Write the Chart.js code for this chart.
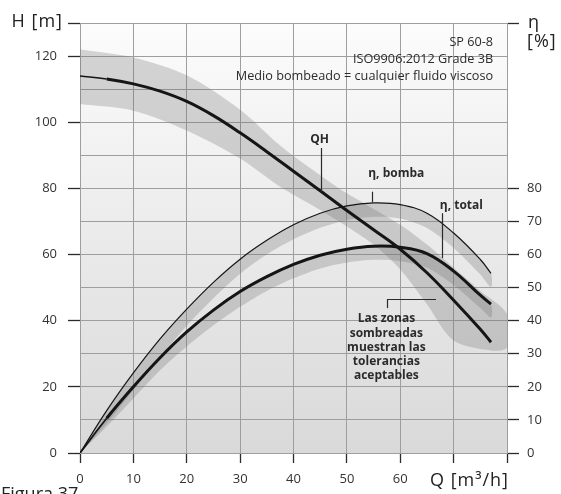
<!DOCTYPE html>
<html>
<head>
<meta charset="utf-8">
<script src="https://cdn.jsdelivr.net/npm/chart.js@4.4.1/dist/chart.umd.min.js"></script>
<style>
  html, body { margin: 0; padding: 0; background: #fff; }
  #wrap { width: 561px; height: 494px; }
</style>
</head>
<body>
<div id="wrap"><canvas id="pumpChart" width="561" height="494"></canvas></div>
<script>
const flow = [0, 5, 10, 15, 20, 25, 30, 35, 40, 45, 50, 55, 60, 65, 70, 75, 77];
const headQH = [114, 113.1, 111.6, 109.4, 106.3, 102, 96.8, 91.1, 85.2, 79.3, 73.3, 67.5, 61.6, 54.5, 46.2, 37.4, 33.5];
const etaPump = [0, 12.8, 24.2, 34.5, 43.5, 51.6, 58.6, 64.3, 69, 72.5, 74.7, 75.6, 75.1, 72.5, 66.5, 58.5, 54.3];
const etaTotal = [0, 10.5, 20, 28.8, 36.6, 43.2, 48.8, 53.3, 57, 59.8, 61.6, 62.5, 62.2, 60.3, 55, 47.7, 45];

// lower edges of the efficiency tolerance zones (same flow points)
const etaPumpLow = [0, 9, 19, 29, 38.5, 46.8, 54.2, 60, 64.6, 68.1, 70.4, 71.4, 70.9, 68, 62, 54, 50.2];
const etaTotalLow = [0, 8, 16.5, 25, 32.2, 38.6, 44.2, 49, 52.8, 55.8, 57.6, 58.4, 58, 56, 50.8, 43.8, 41];

// QH tolerance zone edges
const qhUpperQ = [0, 10, 20, 30, 37.5, 45, 50, 55, 60, 65, 70, 75, 80];
const qhUpperH = [122, 119.6, 114.2, 103.8, 93, 84, 78.5, 73.8, 69, 63, 56, 49, 42];
const qhLowerQ = [0, 10, 20, 30, 37.5, 45, 50, 55, 60, 65, 70, 77, 80];
const qhLowerH = [105.5, 103.5, 97.5, 89, 80.5, 73.5, 68.5, 63, 55.5, 45, 34, 31, 32];

// axes
const qTicks = [0, 10, 20, 30, 40, 50, 60, 70, 80];
const qTickLabels = [0, 10, 20, 30, 40, 50, 60];
const hGrid = [0, 10, 20, 30, 40, 50, 60, 70, 80, 90, 100, 110, 120, 130];
const hTickLabels = [0, 20, 40, 60, 80, 100, 120];
const etaTickLabels = [0, 10, 20, 30, 40, 50, 60, 70, 80];

const toPoints = (xs, ys) => xs.map((x, i) => ({ x: x, y: ys[i] }));
// closed outline: upper edge left->right, then lower edge right->left
const outline = (xu, yu, xl, yl) => toPoints(xu, yu).concat(toPoints(xl, yl).reverse());

const FONT = "'Open Sans', 'DejaVu Sans', sans-serif";
const GRID = '#9e9e9e';
const INK = '#2b2b2b';
const BAND = 'rgba(110,110,110,0.28)';

// plot background fades from white to grey
const plotBackground = {
    id: 'plotBackground',
    beforeDraw(chart) {
        const { ctx, chartArea: a } = chart;
        const g = ctx.createLinearGradient(0, a.top, 0, a.bottom);
        g.addColorStop(0, '#fcfcfc');
        g.addColorStop(1, '#d9d9d9');
        ctx.save();
        ctx.fillStyle = g;
        ctx.fillRect(a.left, a.top, a.right - a.left, a.bottom - a.top);
        ctx.restore();
    }
};

// curve names, notes and axis titles
const labels = {
    id: 'labels',
    afterDatasetsDraw(chart) {
        const { ctx, chartArea: a, scales: { x, y } } = chart;
        const px = v => x.getPixelForValue(v);
        const py = v => y.getPixelForValue(v);
        const vline = (q, h1, h2) => {
            ctx.beginPath();
            ctx.moveTo(Math.round(px(q)) + 0.5, py(h1));
            ctx.lineTo(Math.round(px(q)) + 0.5, py(h2));
            ctx.stroke();
        };
        ctx.save();
        ctx.fillStyle = INK;
        ctx.strokeStyle = INK;
        ctx.lineWidth = 1.2;

        // pump info, top right
        ctx.font = '12.7px ' + FONT;
        ctx.textAlign = 'right';
        ctx.textBaseline = 'middle';
        ctx.fillText('SP 60-8', px(77.4), py(124.2));
        ctx.fillText('ISO9906:2012 Grade 3B', px(77.4), py(119));
        ctx.fillText('Medio bombeado = cualquier fluido viscoso', px(77.4), py(113.9));

        ctx.font = 'bold 12px ' + FONT;
        ctx.textAlign = 'center';
        ctx.fillText('QH', px(44.9), py(94.8));
        vline(45.1, 92.2, 78.9);

        ctx.textAlign = 'left';
        ctx.fillText('η, bomba', px(54), py(84.6));
        vline(54.7, 79, 75.8);
        ctx.fillText('η, total', px(67.4), py(74.7));
        vline(67.8, 72.5, 58.9);

        ctx.textAlign = 'center';
        const note = ['Las zonas', 'sombreadas', 'muestran las', 'tolerancias', 'aceptables'];
        note.forEach((t, i) => ctx.fillText(t, px(57.4), py(40.5) + i * 14.2));
        vline(57.6, 43.8, 46.5);
        ctx.beginPath();
        ctx.moveTo(Math.round(px(57.6)), Math.round(py(46.5)) + 0.5);
        ctx.lineTo(px(66.7), Math.round(py(46.5)) + 0.5);
        ctx.stroke();

        // axis titles
        ctx.fillStyle = '#222';
        ctx.font = '18px ' + FONT;
        ctx.letterSpacing = '1px';
        ctx.textBaseline = 'alphabetic';
        ctx.textAlign = 'right';
        ctx.fillText('H [m]', a.left - 17, a.top + 4);
        ctx.fillText('Q [m³/h]', a.right + 2, a.bottom + 33);
        ctx.textAlign = 'left';
        ctx.fillText('η', a.right + 21, a.top + 5);
        ctx.fillText('[%]', a.right + 20, a.top + 24);

        ctx.letterSpacing = '0px';
        ctx.fillText('Figura 37', 1, a.bottom + 47);
        ctx.restore();
    }
};

const curve = (label, xs, ys, axis, width, startWidth) => ({
    label: label,
    data: toPoints(xs, ys),
    yAxisID: axis,
    borderColor: '#151515',
    borderWidth: width,
    segment: { borderWidth: c => c.p0DataIndex === 0 ? startWidth : width },
    tension: 0.4,
    pointRadius: 0,
    fill: false,
    order: 0
});

const band = (label, points, axis) => ({
    label: label,
    data: points,
    yAxisID: axis,
    borderWidth: 0,
    backgroundColor: BAND,
    tension: 0.3,
    pointRadius: 0,
    fill: 'shape',
    order: 1
});

const ctx = document.getElementById('pumpChart').getContext('2d');
new Chart(ctx, {
    type: 'line',
    data: {
        datasets: [
            curve('QH', flow, headQH, 'y', 3, 1.5),
            curve('η, bomba', flow, etaPump, 'y1', 1.2, 1.2),
            curve('η, total', flow, etaTotal, 'y1', 3, 1.8),
            band('QH tolerancia', outline(qhUpperQ, qhUpperH, qhLowerQ, qhLowerH), 'y'),
            band('η, bomba tolerancia', outline(flow, etaPump, flow, etaPumpLow), 'y1'),
            band('η, total tolerancia', outline(flow, etaTotal, flow, etaTotalLow), 'y1')
        ]
    },
    options: {
        responsive: false,
        devicePixelRatio: 1,
        animation: false,
        layout: { padding: { top: 23, left: 0, right: 0, bottom: 0 } },
        plugins: {
            legend: { display: false },
            tooltip: { enabled: false }
        },
        scales: {
            x: {
                type: 'linear',
                min: 0,
                max: 80,
                afterBuildTicks: s => { s.ticks = qTicks.map(v => ({ value: v })); },
                afterFit: s => { s.height = 41; },
                grid: { color: GRID, lineWidth: 1, tickColor: INK, tickLength: 10, tickWidth: 1.3 },
                border: { color: GRID, width: 1 },
                ticks: {
                    autoSkip: false,
                    maxRotation: 0,
                    padding: 8,
                    color: '#333',
                    font: { family: FONT, size: 13 },
                    callback: v => qTickLabels.includes(v) ? v : ''
                }
            },
            y: {
                position: 'left',
                min: 0,
                max: 130,
                afterBuildTicks: s => { s.ticks = hGrid.map(v => ({ value: v })); },
                afterFit: s => { s.width = 80; },
                grid: {
                    color: GRID,
                    lineWidth: 1,
                    tickLength: 12,
                    tickWidth: 1.3,
                    tickColor: c => (hTickLabels.includes(c.tick.value) || c.tick.value === 130) ? INK : 'rgba(0,0,0,0)'
                },
                border: { color: GRID, width: 1 },
                ticks: {
                    autoSkip: false,
                    padding: 11,
                    color: '#333',
                    font: { family: FONT, size: 13 },
                    callback: v => hTickLabels.includes(v) ? v : ''
                }
            },
            y1: {
                position: 'right',
                min: 0,
                max: 130,
                afterBuildTicks: s => { s.ticks = hGrid.map(v => ({ value: v })); },
                afterFit: s => { s.width = 54; },
                grid: {
                    drawOnChartArea: false,
                    tickLength: 12,
                    tickWidth: 1.3,
                    tickColor: c => (etaTickLabels.includes(c.tick.value) || c.tick.value === 130) ? INK : 'rgba(0,0,0,0)'
                },
                border: { color: GRID, width: 1 },
                ticks: {
                    autoSkip: false,
                    padding: 8,
                    color: '#333',
                    font: { family: FONT, size: 13 },
                    callback: v => etaTickLabels.includes(v) ? v : ''
                }
            }
        }
    },
    plugins: [plotBackground, labels]
});
</script>
</body>
</html>
